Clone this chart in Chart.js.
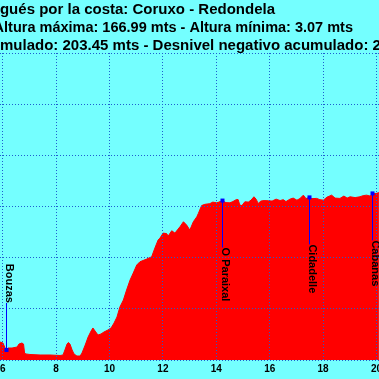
<!DOCTYPE html>
<html><head><meta charset="utf-8">
<script src="https://cdn.jsdelivr.net/npm/chart.js@4"></script>
<style>html,body{margin:0;padding:0;background:#74ffff;overflow:hidden}#wrap{width:379px;height:379px;position:relative}</style>
</head><body><div id="wrap"><canvas id="c" width="379" height="379"></canvas></div>
<script>
const titleLines = [
  'Camino Portugués por la costa: Coruxo - Redondela',
  'Altura máxima: 166.99 mts - Altura mínima: 3.07 mts',
  'Desnivel positivo acumulado: 203.45 mts - Desnivel negativo acumulado: 2'
];
const distanceKm = [5.90,6.01,6.09,6.12,6.20,6.35,6.54,6.61,6.72,6.78,6.82,6.87,7.02,7.40,7.77,8.15,8.26,8.33,8.41,8.46,8.52,8.60,8.67,8.78,8.90,8.97,9.09,9.20,9.31,9.38,9.46,9.57,9.68,9.79,9.94,10.06,10.17,10.28,10.39,10.52,10.64,10.77,10.89,11.02,11.14,11.39,11.58,11.70,11.82,11.89,12.01,12.14,12.20,12.33,12.45,12.64,12.77,12.89,13.01,13.14,13.27,13.33,13.45,13.57,13.76,13.87,14.01,14.10,14.22,14.36,14.51,14.62,14.76,14.82,14.88,14.96,15.07,15.20,15.30,15.41,15.49,15.57,15.67,15.79,15.95,16.09,16.24,16.39,16.51,16.61,16.76,16.88,17.02,17.13,17.26,17.36,17.47,17.58,17.76,17.88,18.01,18.15,18.32,18.45,18.63,18.78,18.90,19.01,19.20,19.38,19.50,19.63,19.76,19.86,19.98,20.09];
const altitudeM = [17.6,16.6,11.7,9.8,11.7,11.7,12.7,15.6,16.6,15.6,6.8,5.9,5.4,4.9,4.9,4.4,4.9,9.8,15.6,17.1,15.6,9.8,5.9,3.9,3.9,6.8,14.6,22.5,28.3,31.3,28.3,24.4,25.4,27.3,29.3,31.3,36.1,42.0,51.8,58.6,68.4,78.1,85.0,92.8,96.0,98.6,100.9,109.4,117.2,119.1,124.0,123.5,121.1,126.3,124.0,130.2,135.1,131.8,127.0,135.1,139.9,143.3,150.9,152.1,152.8,154.3,153.6,154.3,155.8,153.8,153.6,154.8,156.9,156.7,151.4,150.9,154.6,154.3,156.2,159.5,157.2,153.0,155.3,155.8,155.6,155.3,157.2,155.8,156.7,154.8,157.2,158.2,156.2,157.7,161.1,157.7,158.9,157.7,157.9,156.7,156.2,159.2,161.1,158.2,157.9,160.2,158.2,159.5,158.7,159.5,160.6,161.1,160.2,162.8,162.6,163.6];
const markerNames = ['Bouzas','O Paraixal','Cidadelle','Cabanas'];
const markerKm = [6.12,14.22,17.47,19.84];
const markerAlt = [9.8,155.8,158.9,162.8];
const xTickValues = [6,8,10,12,14,16,18,20];
const yTickValues = [0,50,100,150,200,250,300];

const BG = '#74ffff';
const GRID = '#1f5fd0';
const FONT = '"Liberation Sans", Arial, sans-serif';

const decor = {
  id: 'decor',
  beforeDraw(chart) {
    const ctx = chart.ctx;
    ctx.save();
    ctx.fillStyle = BG;
    ctx.fillRect(0, 0, chart.width, chart.height);
    ctx.restore();
  },
  afterDraw(chart) {
    const ctx = chart.ctx;
    const xs = chart.scales.x, ys = chart.scales.y, area = chart.chartArea;
    ctx.save();
    // markers
    ctx.font = 'bold 11px ' + FONT;
    for (let i = 0; i < markerNames.length; i++) {
      const px = Math.round(xs.getPixelForValue(markerKm[i])) + 0.5;
      const py = ys.getPixelForValue(markerAlt[i]);
      const w = ctx.measureText(markerNames[i]).width;
      let start, lineEnd;
      if (py + 47 + w <= area.bottom) { start = py + 47; lineEnd = start; }
      else { lineEnd = py - 47; start = lineEnd - w; }
      ctx.strokeStyle = '#0000ff';
      ctx.lineWidth = 1;
      ctx.beginPath(); ctx.moveTo(px, py); ctx.lineTo(px, lineEnd); ctx.stroke();
      ctx.fillStyle = '#0000ff';
      ctx.fillRect(px - 2, py - 2, 4, 4);
      ctx.save();
      ctx.translate(px, start);
      ctx.rotate(Math.PI / 2);
      ctx.fillStyle = '#000';
      ctx.textAlign = 'left';
      ctx.textBaseline = 'alphabetic';
      ctx.fillText(markerNames[i], 0, 1);
      ctx.restore();
    }
    // heading
    ctx.fillStyle = '#000';
    ctx.textBaseline = 'alphabetic';
    ctx.textAlign = 'right';
    ctx.font = 'bold 15px ' + FONT;
    ctx.fillText(titleLines[0], 275, 14);
    ctx.font = 'bold 14.5px ' + FONT;
    ctx.fillText(titleLines[1], 353, 32);
    ctx.font = 'bold 15px ' + FONT;
    ctx.textAlign = 'left';
    const off = ctx.measureText('Desnivel positivo acu').width;
    ctx.fillText(titleLines[2], -off, 50);
    ctx.restore();
  }
};

new Chart(document.getElementById('c'), {
  type: 'line',
  data: {
    datasets: [{
      data: distanceKm.map((x, i) => ({ x, y: altitudeM[i] })),
      fill: 'origin',
      backgroundColor: '#ff0000',
      borderColor: '#ff0000',
      borderWidth: 1,
      pointRadius: 0,
      tension: 0
    }]
  },
  options: {
    responsive: false,
    animation: false,
    events: [],
    layout: { padding: { top: 53, left: 0, right: 0, bottom: 0 } },
    plugins: { legend: { display: false }, title: { display: false }, tooltip: { enabled: false } },
    scales: {
      x: {
        type: 'linear', min: 5.899, max: 20.094,
        afterBuildTicks: s => { s.ticks = xTickValues.map(v => ({ value: v })); },
        afterFit: s => { s.height = 19; s.paddingLeft = 0; s.paddingRight = 0; },
        grid: { color: GRID, lineWidth: 1, drawTicks: false, z: 1 },
        border: { display: false, dash: [1, 2] },
        ticks: { color: '#000', font: { family: FONT, size: 10, weight: 'bold' }, padding: 3, maxRotation: 0, autoSkip: false }
      },
      y: {
        type: 'linear', min: 0, max: 300,
        afterBuildTicks: s => { s.ticks = yTickValues.map(v => ({ value: v })); },
        afterFit: s => { s.width = 0; s.paddingTop = 0; s.paddingBottom = 0; },
        grid: { color: GRID, lineWidth: 1, drawTicks: false, z: 1 },
        border: { display: false, dash: [1, 2] },
        ticks: { display: false }
      }
    }
  },
  plugins: [decor]
});
</script>
</body></html>
